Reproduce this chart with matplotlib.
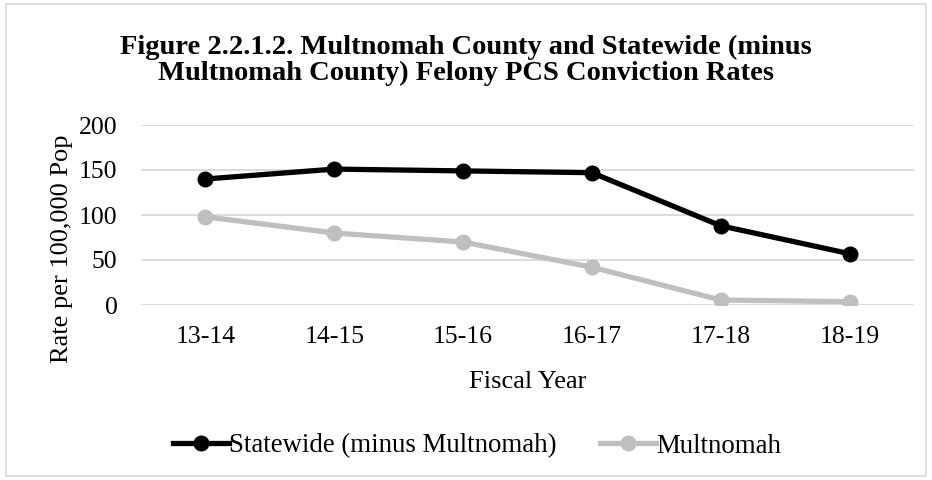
import matplotlib
matplotlib.use("Agg")
import matplotlib.pyplot as plt
from matplotlib.patches import Rectangle

years = ["13-14", "14-15", "15-16", "16-17", "17-18", "18-19"]
statewide = [140, 151, 149, 147, 88, 57]
multnomah = [98, 80, 70, 42, 5.5, 3.7]
yticks = [0, 50, 100, 150, 200]

plt.rcParams['font.family'] = ['Liberation Serif', 'DejaVu Serif']

fig = plt.figure(figsize=(9.32, 4.8), dpi=100)
ax = fig.add_axes([141/932, 1-305/480, (914-141)/932, (305-125)/480])

x = list(range(len(years)))
ax.plot(x, statewide, color='black', lw=3.8, marker='o', ms=10.5,
        label='Statewide (minus Multnomah)', zorder=3)
ax.plot(x, multnomah, color='#BFBFBF', lw=3.8, marker='o', ms=10.5,
        label='Multnomah', zorder=3)

ax.set_xlim(-0.5, len(years)-0.5)
ax.set_ylim(0, 200)
ax.set_yticks(yticks)
ax.set_xticks(x)
ax.set_xticklabels(years)
ax.grid(axis='y', color='#D9D9D9', lw=1.3)
ax.set_axisbelow(True)
for s in ax.spines.values():
    s.set_visible(False)
ax.tick_params(axis='both', length=0, labelsize=18.5)
ax.tick_params(axis='y', pad=17)
ax.tick_params(axis='x', pad=15)
ax.set_xlabel('Fiscal Year', fontsize=19, labelpad=17)
ax.set_ylabel('Rate per 100,000 Pop', fontsize=19)
ax.yaxis.set_label_coords((73-141)/773, (305-249)/180)

fig.text(0.5, 1-60.5/480, 'Figure 2.2.1.2. Multnomah County and Statewide (minus\nMultnomah County) Felony PCS Conviction Rates',
         ha='center', va='center', fontsize=20.5, fontweight='bold', linespacing=1.0)

leg = ax.legend(loc='center', bbox_to_anchor=(477/932, 1-446/480), bbox_transform=fig.transFigure,
                ncol=2, frameon=False, fontsize=19.4, handlelength=2.1, handletextpad=0.0,
                columnspacing=1.6)

fig.add_artist(Rectangle((6/932, 4/480), (926-6)/932, (476-4)/480, transform=fig.transFigure,
                         fill=False, edgecolor='#D9D9D9', lw=1.2))

fig.savefig('out.png', dpi=100)
